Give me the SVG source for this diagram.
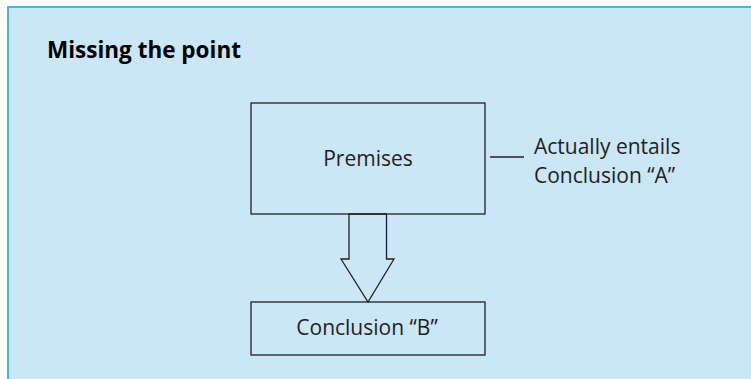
<svg xmlns="http://www.w3.org/2000/svg" width="751" height="379" viewBox="0 0 751 379">
<style>
.box{fill:none;stroke:#231f20;stroke-width:1.3}
.t{font-family:"Open Sans","Noto Sans",sans-serif;font-size:21px;fill:#231f20}
.ln{fill:none;stroke:#231f20;stroke-width:1.3}
</style>
<rect x="8" y="7" width="760" height="390" fill="#cae6f7" stroke="#3fb7e9" stroke-width="2"/>
<text x="47" y="58" font-family="Open Sans,Noto Sans,sans-serif" font-weight="bold" font-size="22.5" fill="#000">Missing the point</text>
<g id="premises">
<rect class="box" x="251" y="103" width="234" height="111"/>
<text class="t" x="368" y="166" text-anchor="middle" font-size="20.5">Premises</text>
</g>
<g id="conclusionB">
<rect class="box" x="251" y="302" width="234" height="53"/>
<text class="t" x="367" y="335" text-anchor="middle">Conclusion “B”</text>
</g>
<g id="note">
<text class="t" x="534" y="154">Actually entails</text>
<text class="t" x="534" y="183">Conclusion “A”</text>
</g>
<g id="connectors">
<polygon class="ln" points="349,214 386.5,214 386.5,259 394,259 368,302 341,259 349,259"/>
<line class="ln" x1="490" y1="157" x2="524" y2="157"/>
</g>
</svg>
